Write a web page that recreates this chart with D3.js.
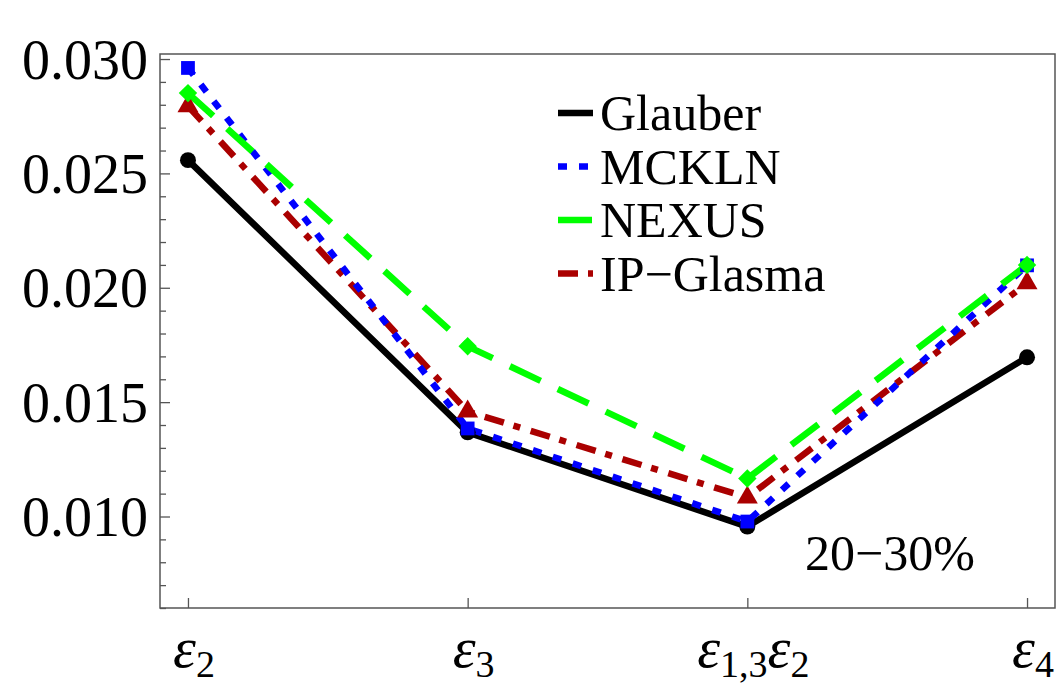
<!DOCTYPE html>
<html><head><meta charset="utf-8">
<script src="https://cdn.jsdelivr.net/npm/d3@7"></script>
<style>body{margin:0;background:#fff}svg{display:block}</style>
</head><body>
<svg id="c" width="1062" height="685"></svg>
<script>
const categories = [["ε","2"],["ε","3"],["ε","1,3","ε","2"],["ε","4"]];
const glauber   = [0.02558, 0.01368, 0.00956, 0.01696];
const mckln     = [0.02961, 0.01385, 0.00978, 0.02098];
const nexus     = [0.02851, 0.01744, 0.01166, 0.02100];
const ipglasma  = [0.02794, 0.01459, 0.01083, 0.02020];
const seriesNames = ["Glauber","MCKLN","NEXUS","IP\u2212Glasma"];
const yMajorTicks = [0.010, 0.015, 0.020, 0.025, 0.030];
const yTickLabels = ["0.010","0.015","0.020","0.025","0.030"];
const annotation = "20\u221230%";

const svg = d3.select("#c");
const L=160, R=1055, T=54, B=608;
const x = d3.scaleLinear().domain([-0.1, 3.1]).range([L, R]);
const y = d3.scaleLinear().domain([0.006, 0.03022]).range([B, T]);
const font = "'Liberation Serif', 'Times New Roman', serif";

// frame
svg.append("rect").attr("x",L).attr("y",T).attr("width",R-L).attr("height",B-T)
  .attr("fill","none").attr("stroke","#555").attr("stroke-width",1.5);

// y ticks (inside)
const minor = d3.range(0.006, 0.0305, 0.001).map(v=>+v.toFixed(3));
const yAxis = d3.axisLeft(y).tickValues(minor).tickSize(-6).tickFormat("");
const gy = svg.append("g").attr("transform",`translate(${L},0)`).call(yAxis);
gy.select(".domain").remove();
gy.selectAll(".tick line").attr("stroke","#555").attr("stroke-width",1.3)
  .attr("x2", d => yMajorTicks.some(m=>Math.abs(m-d)<1e-6) ? 10 : 6);
// y labels
svg.append("g").selectAll("text").data(yMajorTicks).join("text")
  .attr("x",148).attr("y",d=>y(d)).attr("dy","0.35em")
  .attr("text-anchor","end").attr("font-family",font).attr("font-size",56)
  .text((d,i)=>yTickLabels[i]);

// x ticks
const xAxis = d3.axisBottom(x).tickValues([0,1,2,3]).tickSize(-10).tickFormat("");
const gx = svg.append("g").attr("transform",`translate(0,${B})`).call(xAxis);
gx.select(".domain").remove();
gx.selectAll(".tick line").attr("stroke","#555").attr("stroke-width",1.3);
// x labels
categories.forEach((parts,i)=>{
  const t = svg.append("text").attr("x",x(i)+6).attr("y",667)
    .attr("text-anchor","middle").attr("font-family",font).attr("font-size",56);
  parts.forEach((p,j)=>{
    const isSub = j%2===1;
    t.append("tspan").attr("font-size", isSub?38:58)
      .attr("font-style", isSub?"normal":"italic")
      .attr("dy", isSub? 10 : (j>0? -10:0)).text(p);
  });
});

const series = [
  {name:seriesNames[0], data:glauber, color:"#000000", dash:null, marker:"circle"},
  {name:seriesNames[1], data:mckln, color:"#0000ff", dash:"9,12", marker:"square"},
  {name:seriesNames[2], data:nexus, color:"#00ff00", dash:"34,19", marker:"diamond"},
  {name:seriesNames[3], data:ipglasma, color:"#aa0000", dash:"20,10,7,11", marker:"triangle"}
];
const line = d3.line().x((d,i)=>x(i)).y(d=>y(d));
const symType = {circle:d3.symbolCircle, square:d3.symbolSquare, diamond:d3.symbolSquare, triangle:d3.symbolTriangle};
const symSize = {circle:200, square:190, diamond:170, triangle:190};

const order = [0,3,1,2];
order.forEach(k=>{
  const s = series[k];
  svg.append("path").datum(s.data).attr("d",line).attr("fill","none")
    .attr("stroke",s.color).attr("stroke-width",6.5)
    .attr("stroke-dasharray",s.dash).attr("stroke-linejoin","round");
});
order.forEach(k=>{
  const s = series[k];
  svg.append("g").selectAll("path").data(s.data).join("path")
    .attr("transform",(d,i)=>`translate(${x(i)},${y(d)})` + (s.marker==="diamond"?" rotate(45)":""))
    .attr("d", d3.symbol().type(symType[s.marker]).size(symSize[s.marker]))
    .attr("fill",s.color);
});

// legend
const legY0 = 130, legDY = 53.5;
series.forEach((s,i)=>{
  const by = legY0 + i*legDY;
  svg.append("line").attr("x1",558).attr("x2",593).attr("y1",by-17).attr("y2",by-17)
    .attr("stroke",s.color).attr("stroke-width",6.5).attr("stroke-dasharray",s.dash);
  svg.append("text").attr("x",600).attr("y",by).attr("font-family",font)
    .attr("font-size",50).text(s.name);
});

// annotation
svg.append("text").attr("x",805).attr("y",570).attr("font-family",font)
  .attr("font-size",50).text(annotation);
</script>
</body></html>
